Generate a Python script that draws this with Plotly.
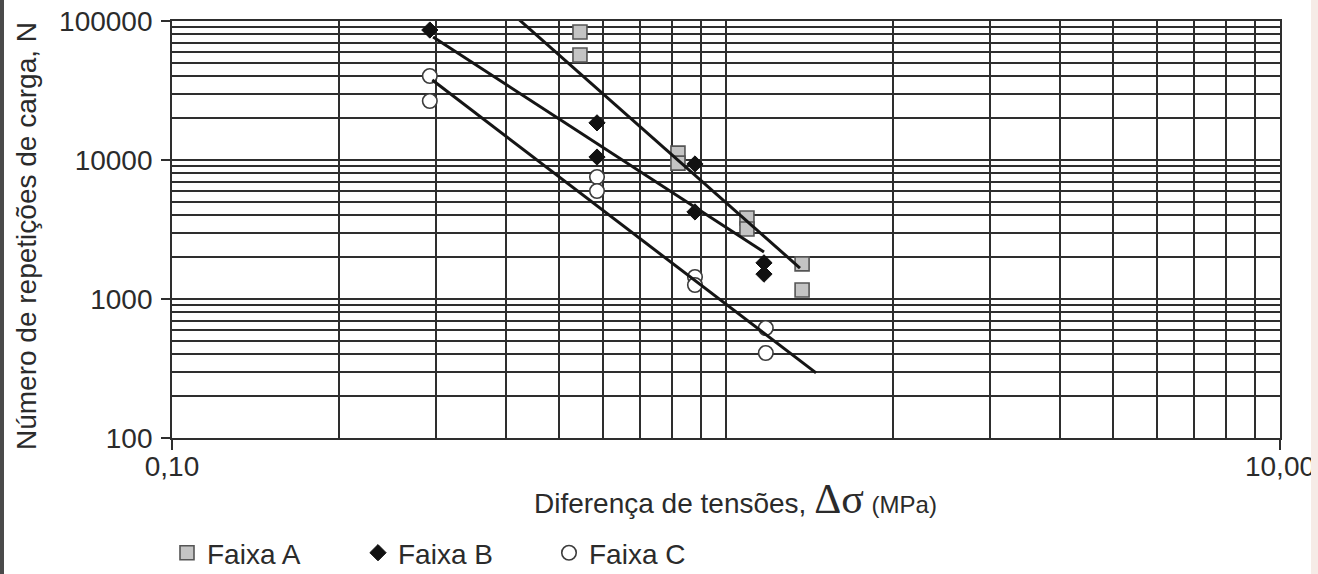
import plotly.graph_objects as go

# Fatigue test results: stress difference (MPa) vs. number of load repetitions
faixa_a_x = [0.545, 0.545, 0.819, 0.819, 1.091, 1.091, 1.372, 1.372]
faixa_a_n = [83300, 56900, 11200, 9500, 3830, 3190, 1790, 1160]

faixa_b_x = [0.292, 0.585, 0.585, 0.879, 0.879, 1.171, 1.171]
faixa_b_n = [86100, 18500, 10500, 9360, 4230, 1820, 1510]

faixa_c_x = [0.292, 0.292, 0.585, 0.585, 0.879, 0.879, 1.18, 1.18]
faixa_c_n = [40200, 26600, 7550, 5980, 1440, 1260, 618, 409]

# Fatigue trend lines (end points of each fitted line)
trend_a_x = [0.42, 1.36]
trend_a_n = [105000, 1670]
trend_b_x = [0.296, 1.171]
trend_b_n = [76700, 2180]
trend_c_x = [0.295, 1.454]
trend_c_n = [37600, 294]

series_names = ["Faixa A", "Faixa B", "Faixa C"]

x_tick_vals = [0.1, 10]
x_tick_text = ["0,10", "10,00"]
y_tick_vals = [100, 1000, 10000, 100000]
y_tick_text = ["100", "1000", "10000", "100000"]

x_minor = [k * 0.1 for k in range(2, 10)] + [1] + [k for k in range(2, 10)]
y_minor = [k * 10 ** d for d in (2, 3, 4) for k in range(2, 10)]

GRID = "#2e2e2e"
TEXT = "#2b2b2b"
FONT = "Liberation Sans, Arial, sans-serif"

fig = go.Figure()

fig.add_trace(go.Scatter(
    x=faixa_a_x, y=faixa_a_n, mode="markers", name=series_names[0],
    marker=dict(symbol="square", size=14, color="#c4c4c4",
                line=dict(color="#555555", width=1.6)),
))
fig.add_trace(go.Scatter(
    x=faixa_b_x, y=faixa_b_n, mode="markers", name=series_names[1],
    marker=dict(symbol="diamond", size=12.5, color="#111111",
                line=dict(color="#111111", width=1)),
))
fig.add_trace(go.Scatter(
    x=faixa_c_x, y=faixa_c_n, mode="markers", name=series_names[2],
    marker=dict(symbol="circle", size=14.5, color="white",
                line=dict(color="#3c3c3c", width=1.6)),
))

for tx, tn in ((trend_a_x, trend_a_n), (trend_b_x, trend_b_n), (trend_c_x, trend_c_n)):
    fig.add_trace(go.Scatter(
        x=tx, y=tn, mode="lines", showlegend=False, hoverinfo="skip",
        line=dict(color="#151515", width=3),
    ))

axis_common = dict(
    type="log",
    tickmode="array",
    ticks="outside",
    tickcolor=GRID,
    tickwidth=1.8,
    showgrid=True,
    gridcolor=GRID,
    gridwidth=1.8,
    showline=True,
    linecolor=GRID,
    linewidth=1.8,
    mirror=True,
    zeroline=False,
    automargin=False,
    tickfont=dict(family=FONT, size=28, color=TEXT),
)

fig.update_xaxes(
    **axis_common,
    range=[-1, 1],
    tickvals=x_tick_vals,
    ticktext=x_tick_text,
    ticklen=10,
    ticklabelstandoff=-8,
    minor=dict(tickmode="array", tickvals=x_minor, showgrid=True,
               gridcolor=GRID, gridwidth=1.8, ticks=""),
)
fig.update_yaxes(
    **axis_common,
    range=[2, 5],
    tickvals=y_tick_vals,
    ticktext=y_tick_text,
    ticklen=9,
    ticklabelstandoff=3,
    minor=dict(tickmode="array", tickvals=y_minor, showgrid=True,
               gridcolor=GRID, gridwidth=1.8, ticks=""),
)

W, H = 1318, 574
L, R, T, B = 172, 38, 21, 136
pw, ph = W - L - R, H - T - B


def px_x(p):
    return (p - L) / pw


def px_y(p):
    return (H - B - p) / ph


fig.add_annotation(
    text=("Diferença de tensões, "
          "<span style='font-family:Liberation Serif, Times New Roman, serif;font-size:42px'>Δσ</span>"
          " <span style='font-size:24px'>(MPa)</span>"),
    xref="paper", yref="paper", x=px_x(735), y=px_y(499),
    xanchor="center", yanchor="middle", showarrow=False,
    font=dict(family=FONT, size=28, color=TEXT),
)
fig.add_annotation(
    text="Número de repetições de carga, N",
    xref="paper", yref="paper", x=px_x(26), y=px_y(236),
    xanchor="center", yanchor="middle", showarrow=False, textangle=-90,
    font=dict(family=FONT, size=28, color=TEXT),
)

# page edges
fig.add_shape(type="rect", xref="paper", yref="paper",
              x0=px_x(0), x1=px_x(4), y0=px_y(574), y1=px_y(0),
              fillcolor="#4a4a4a", line_width=0, layer="above")
fig.add_shape(type="rect", xref="paper", yref="paper",
              x0=px_x(1311), x1=px_x(1318), y0=px_y(574), y1=px_y(0),
              fillcolor="#f6ebe7", line_width=0, layer="above")

fig.update_layout(
    width=W, height=H,
    margin=dict(l=L, r=R, t=T, b=B, autoexpand=False),
    paper_bgcolor="white",
    plot_bgcolor="white",
    font=dict(family=FONT, size=28, color=TEXT),
    showlegend=True,
    legend=dict(
        orientation="h",
        xref="container", yref="container",
        x=167 / W, y=21 / H,
        xanchor="left", yanchor="middle",
        font=dict(family=FONT, size=28, color=TEXT),
        entrywidth=146, entrywidthmode="pixels",
        bgcolor="rgba(0,0,0,0)",
        borderwidth=0,
        tracegroupgap=0,
    ),
)

fig.write_html("out.html")
